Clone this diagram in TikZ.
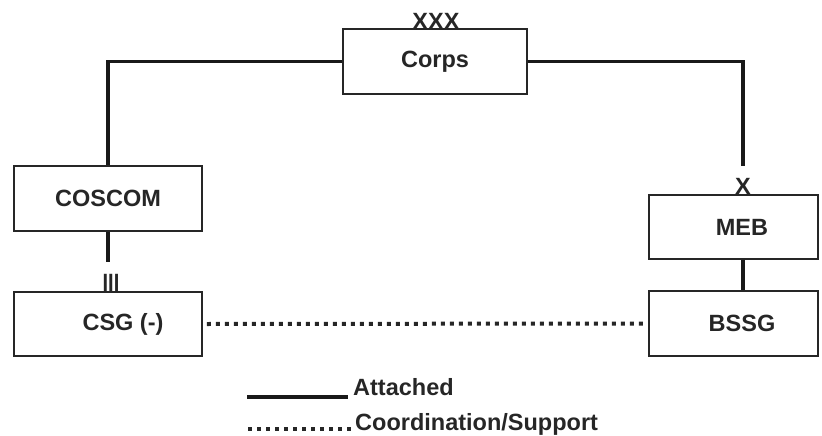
\documentclass[tikz,border=0pt]{standalone}
\usepackage{fontspec}
\setmainfont{Liberation Sans}
\begin{document}
\begin{tikzpicture}[x=1pt,y=-1pt,
  lbl/.style={font=\fontsize{23.5}{27}\selectfont\bfseries, text=black!85},
  box/.style={draw=black!85, line width=1.8pt, lbl, inner sep=0pt},
  attline/.style={line width=3.8pt, black!90},
  dotline/.style={line width=4pt, black!85, dash pattern=on 4pt off 5pt},
  echelon/.style={lbl, inner sep=0pt, anchor=south}
]
\useasboundingbox (0,0) rectangle (822,436);

\node[box, minimum width=184pt, minimum height=65pt] (corps) at (435,61.5) {Corps};
\node[box, minimum width=188pt, minimum height=65pt] (coscom) at (108,198.5) {COSCOM};
\node[box, minimum width=188pt, minimum height=64pt] (csg) at (108,324) {\hspace*{30pt}CSG (-)};
\node[box, minimum width=169pt, minimum height=64pt] (meb) at (733.5,227) {\hspace*{17pt}MEB};
\node[box, minimum width=169pt, minimum height=65pt] (bssg) at (733.5,323.5) {\hspace*{17pt}BSSG};

\node[echelon] (xxx) at (436,29.5) {XXX};
\node[echelon] (xl) at (743,195) {X};
\node[echelon, font=\fontsize{25}{28}\selectfont\bfseries, xscale=0.8, transform shape] (iii) at (111,292) {III};

\coordinate (xtop) at ([yshift=12pt]xl.north);
\coordinate (iiitop) at ([yshift=12pt]iii.north);

\draw[attline] (corps.west) -| (coscom.north);
\draw[attline] (corps.east) -| (xtop);
\draw[attline] (coscom.south) -- (coscom.south |- iiitop);
\draw[attline] (xl.south |- meb.south) -- (xl.south |- bssg.north);
\draw[dotline] ([xshift=4pt]csg.east) -- ([xshift=-4pt]bssg.west);

% legend
\coordinate (l1a) at (247,397);
\coordinate (l1b) at (348,397);
\coordinate (l2a) at (248,429);
\coordinate (l2b) at (352,429);
\draw[attline] (l1a) -- (l1b);
\draw[dotline] (l2a) -- (l2b);
\node[lbl, anchor=base west, inner sep=0pt] (att) at (353,395) {Attached};
\node[lbl, anchor=base west, inner sep=0pt] (coord) at (355,430) {Coordination/Support};
\end{tikzpicture}
\end{document}
